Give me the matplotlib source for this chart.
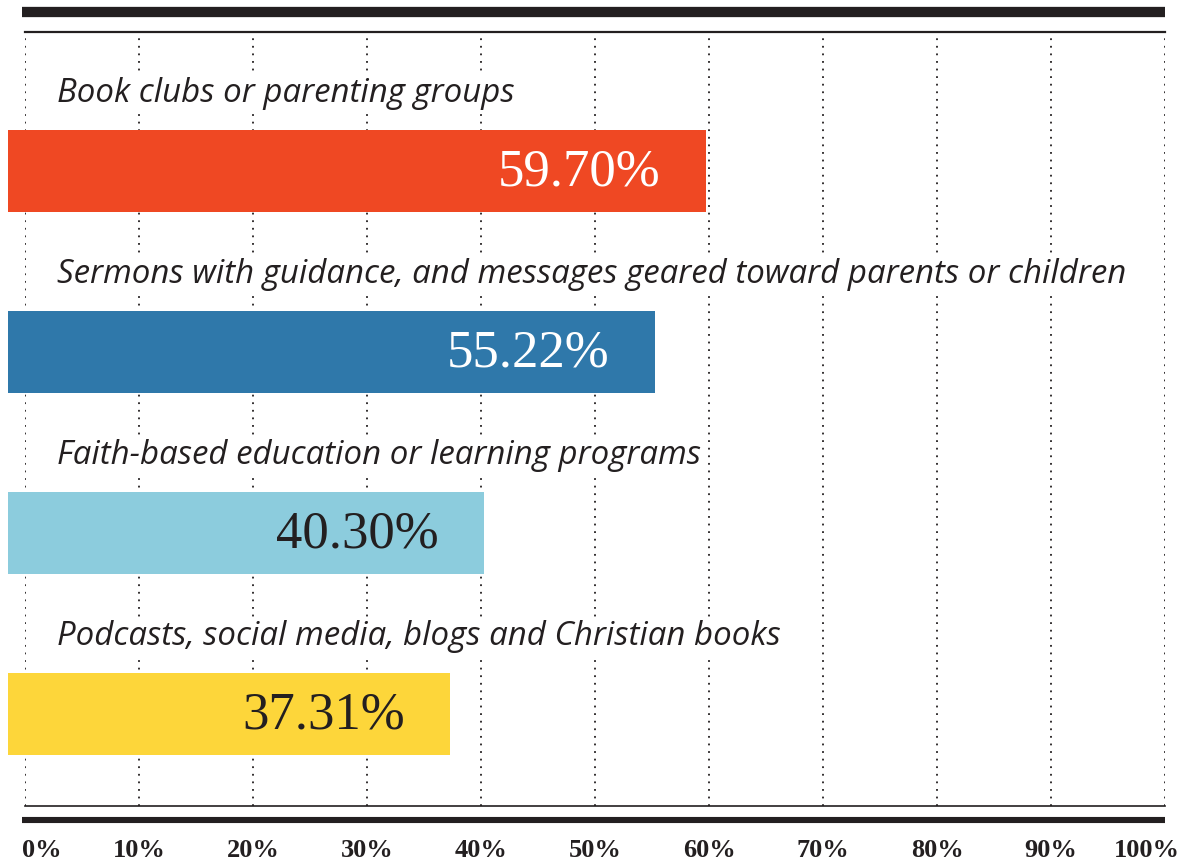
import matplotlib
matplotlib.use("Agg")
import matplotlib.pyplot as plt
import matplotlib.transforms as mtransforms
from matplotlib.lines import Line2D

# === Data ===
categories = [
    "Book clubs or parenting groups",
    "Sermons with guidance, and messages geared toward parents or children",
    "Faith-based education or learning programs",
    "Podcasts, social media, blogs and Christian books",
]
values = [59.70, 55.22, 40.30, 37.31]
value_labels = ["59.70%", "55.22%", "40.30%", "37.31%"]
bar_colors = ["#EF4823", "#2F78AA", "#8CCCDD", "#FDD63A"]
value_colors = ["white", "white", "#231F20", "#231F20"]
ticks = [0, 10, 20, 30, 40, 50, 60, 70, 80, 90, 100]
tick_labels = [f"{t}%" for t in ticks]

INK = "#231F20"
W, H = 1188, 867

fig = plt.figure(figsize=(W / 100, H / 100), dpi=100)
# axes spans 0%..100% horizontally, thin rule to thin rule vertically
ax = fig.add_axes([25 / W, (H - 806) / H, 1140 / W, 774 / H])
ax.set_xlim(0, 100)
ax.set_ylim(3.508, -0.768)

# === Grid ===
for t in ticks:
    ax.axvline(t, color=INK, linestyle=(0, (1, 3.2)), linewidth=1.3, zorder=0)

# === Bars ===
ypos = list(range(len(categories)))
ax.barh(ypos, [v + 1.5 for v in values], left=-1.5, height=0.453,
        color=bar_colors, zorder=2, clip_on=False)

for y, cat, v, lab, vc in zip(ypos, categories, values, value_labels, value_colors):
    ax.text(2.8, y - 0.43, cat, ha="left", va="center", fontsize=23.8,
            family="Open Sans", style="italic", color=INK, zorder=3,
            bbox=dict(facecolor="white", edgecolor="none", pad=2))
    ax.text(v - 4, y + 0.01, lab, ha="right", va="center", fontsize=38,
            family="Liberation Serif", color=vc, zorder=4)

# === Axes styling ===
for s in ax.spines.values():
    s.set_visible(False)
ax.set_yticks([])
ax.set_xticks(ticks)
ax.set_xticklabels(tick_labels, family="Liberation Serif", fontweight="bold",
                   fontsize=19, color=INK)
ax.tick_params(axis="x", length=0, pad=24)
lbls = ax.get_xticklabels()
lbls[0].set_ha("left")
lbls[0].set_transform(lbls[0].get_transform() + mtransforms.ScaledTranslation(-3 / 100, 0, fig.dpi_scale_trans))
lbls[-1].set_ha("right")
lbls[-1].set_transform(lbls[-1].get_transform() + mtransforms.ScaledTranslation(15 / 100, 0, fig.dpi_scale_trans))

# thin rules at top/bottom of plot area
ax.axhline(-0.768, color=INK, linewidth=1.6, clip_on=False)
ax.axhline(3.508, color=INK, linewidth=1.2, clip_on=False)

# thick rules
fig.add_artist(Line2D([22 / W, 1165 / W], [1 - 12 / H, 1 - 12 / H],
                      color=INK, linewidth=7.4, solid_capstyle="butt"))
fig.add_artist(Line2D([22 / W, 1165 / W], [1 - 820 / H, 1 - 820 / H],
                      color=INK, linewidth=4.4, solid_capstyle="butt"))

fig.savefig("out.png", dpi=100, facecolor="white")
